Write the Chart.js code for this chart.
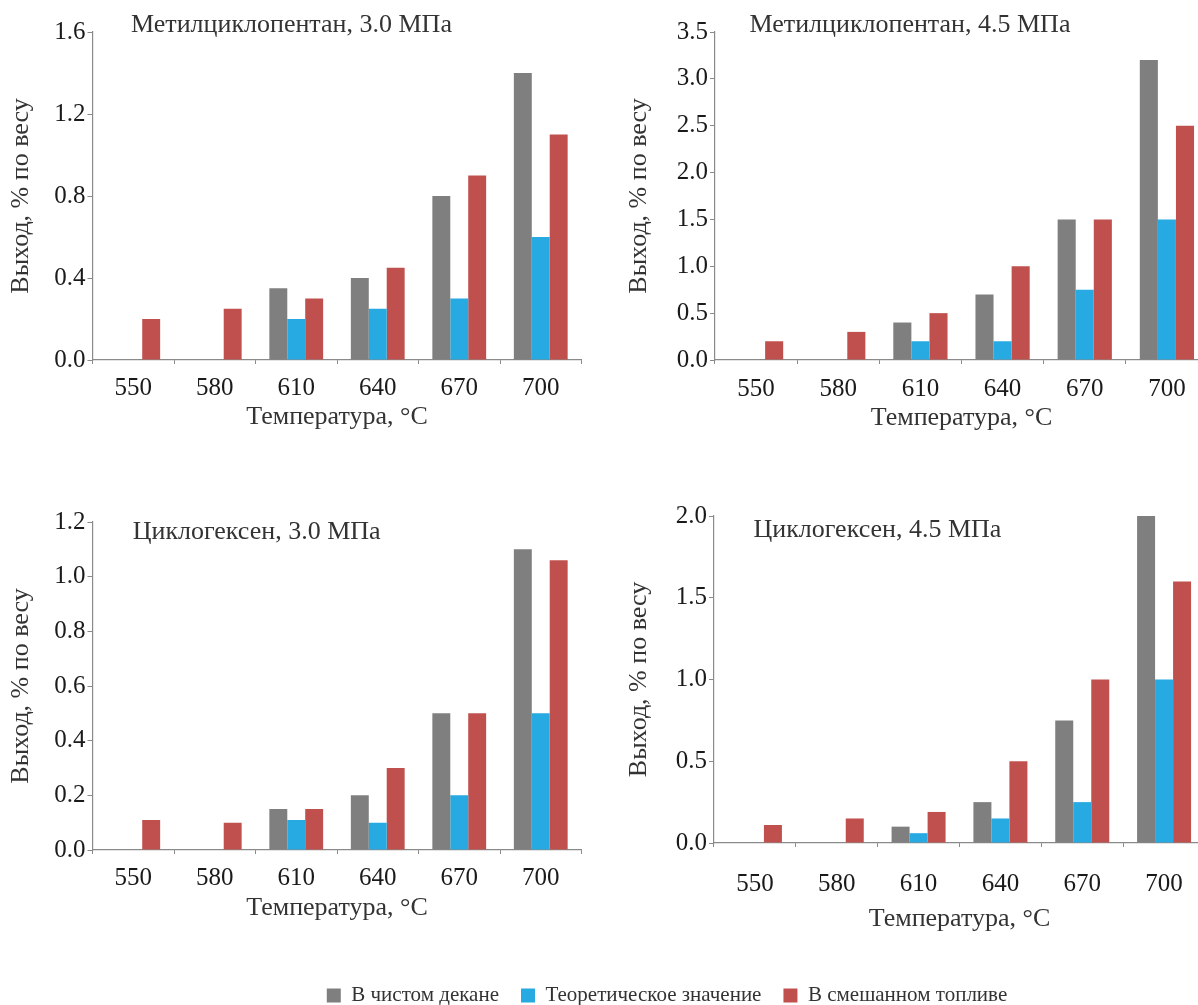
<!DOCTYPE html>
<html>
<head>
<meta charset="utf-8">
<script src="https://cdn.jsdelivr.net/npm/chart.js@4.4.1/dist/chart.umd.min.js"></script>
<style>
  html, body { margin: 0; padding: 0; background: #fff; overflow: hidden; }
  body { width: 1198px; height: 1005px; position: relative; }
  canvas { position: absolute; }
</style>
</head>
<body>
<canvas id="c1"></canvas>
<canvas id="c2"></canvas>
<canvas id="c3"></canvas>
<canvas id="c4"></canvas>
<canvas id="legend"></canvas>
<script>
/* ---------- data ---------- */
var temps = ['550', '580', '610', '640', '670', '700'];
var seriesNames = ['В чистом декане', 'Теоретическое значение', 'В смешанном топливе'];
var seriesColors = ['#7f7f7f', '#27aae1', '#c0504d'];

// Метилциклопентан, 3.0 МПа
var mcp30Decane = [0, 0, 0.35, 0.40, 0.80, 1.40];
var mcp30Theory = [0, 0, 0.20, 0.25, 0.30, 0.60];
var mcp30Mixed  = [0.20, 0.25, 0.30, 0.45, 0.90, 1.10];
// Метилциклопентан, 4.5 МПа
var mcp45Decane = [0, 0, 0.40, 0.70, 1.50, 3.20];
var mcp45Theory = [0, 0, 0.20, 0.20, 0.75, 1.50];
var mcp45Mixed  = [0.20, 0.30, 0.50, 1.00, 1.50, 2.50];
// Циклогексен, 3.0 МПа
var chx30Decane = [0, 0, 0.15, 0.20, 0.50, 1.10];
var chx30Theory = [0, 0, 0.11, 0.10, 0.20, 0.50];
var chx30Mixed  = [0.11, 0.10, 0.15, 0.30, 0.50, 1.06];
// Циклогексен, 4.5 МПа
var chx45Decane = [0, 0, 0.10, 0.25, 0.75, 2.00];
var chx45Theory = [0, 0, 0.06, 0.15, 0.25, 1.00];
var chx45Mixed  = [0.11, 0.15, 0.19, 0.50, 1.00, 1.60];

var yTitle = 'Выход, % по весу';
var xTitle = 'Температура, °C';

/* ---------- layout of the four panels (page pixels) ---------- */
var FONT = "'Liberation Serif', 'Times New Roman', serif";
var panels = [
  { id: 'c1', title: 'Метилциклопентан, 3.0 МПа', data: [mcp30Decane, mcp30Theory, mcp30Mixed], yMax: 1.6, step: 0.4,
    box: [0, 0, 600, 440], area: [92.5, 32, 581.5, 360], tickPad: 9, xTitlePad: 7, yTitlePad: 7, titlePos: [131, 25] },
  { id: 'c2', title: 'Метилциклопентан, 4.5 МПа', data: [mcp45Decane, mcp45Theory, mcp45Mixed], yMax: 3.5, step: 0.5,
    box: [600, 0, 620, 440], area: [715, 32, 1208, 360], tickPad: 10, xTitlePad: 6, yTitlePad: 25, titlePos: [149.5, 25] },
  { id: 'c3', title: 'Циклогексен, 3.0 МПа', data: [chx30Decane, chx30Theory, chx30Mixed], yMax: 1.2, step: 0.2,
    box: [0, 490, 600, 440], area: [92.5, 522, 581.5, 850], tickPad: 9, xTitlePad: 6, yTitlePad: 7, titlePos: [132.7, 41.7] },
  { id: 'c4', title: 'Циклогексен, 4.5 МПа', data: [chx45Decane, chx45Theory, chx45Mixed], yMax: 2.0, step: 0.5,
    box: [600, 490, 620, 450], area: [714, 516, 1205, 843], tickPad: 22, xTitlePad: 5, yTitlePad: 25, titlePos: [153.5, 40] }
];

/* panel caption drawn inside the plot, top-left */
var panelCaption = {
  id: 'panelCaption',
  afterDraw: function (chart, args, opts) {
    var ctx = chart.ctx;
    ctx.save();
    ctx.font = '26px ' + FONT;
    ctx.fillStyle = '#333';
    ctx.textBaseline = 'middle';
    ctx.textAlign = 'left';
    ctx.fillText(opts.text, opts.x, opts.y);
    ctx.restore();
  }
};

panels.forEach(function (p) {
  var cv = document.getElementById(p.id);
  var bx = p.box[0], by = p.box[1], bw = p.box[2], bh = p.box[3];
  cv.style.left = bx + 'px';
  cv.style.top = by + 'px';
  cv.width = bw;
  cv.height = bh;

  var yWidth = p.area[0] - bx;
  var xHeight = by + bh - p.area[3];

  new Chart(cv, {
    type: 'bar',
    plugins: [panelCaption],
    data: {
      labels: temps,
      datasets: seriesNames.map(function (name, i) {
        return {
          label: name,
          data: p.data[i],
          backgroundColor: seriesColors[i],
          borderWidth: 0,
          categoryPercentage: 0.66,
          barPercentage: 1.0
        };
      })
    },
    options: {
      responsive: false,
      animation: false,
      layout: { padding: { top: p.area[1] - by, right: bx + bw - p.area[2], left: 0, bottom: 0 } },
      plugins: {
        legend: { display: false },
        tooltip: { enabled: false },
        panelCaption: { text: p.title, x: p.titlePos[0], y: p.titlePos[1] }
      },
      scales: {
        x: {
          afterFit: function (s) { s.height = xHeight; },
          grid: { drawOnChartArea: false, tickLength: 4, color: '#8a8a8a', lineWidth: 1 },
          border: { color: '#8a8a8a', width: 1.2 },
          ticks: { color: '#1a1a1a', font: { family: FONT, size: 25 }, padding: p.tickPad, maxRotation: 0 },
          title: { display: true, text: xTitle, color: '#333', font: { family: FONT, size: 26 },
                   padding: { top: 0, bottom: p.xTitlePad } }
        },
        y: {
          min: 0,
          max: p.yMax,
          afterFit: function (s) { s.width = yWidth; },
          grid: { drawOnChartArea: false, tickLength: 5, color: '#8a8a8a', lineWidth: 1 },
          border: { color: '#8a8a8a', width: 1.2 },
          ticks: {
            stepSize: p.step,
            color: '#1a1a1a',
            font: { family: FONT, size: 25 },
            padding: 2,
            callback: function (v) { return Number(v).toFixed(1); }
          },
          title: { display: true, text: yTitle, color: '#333', font: { family: FONT, size: 26 },
                   padding: { top: p.yTitlePad - 1, bottom: 0 } }
        }
      }
    }
  });
});

/* ---------- shared legend ---------- */
var lg = document.getElementById('legend');
lg.style.left = '136px';
lg.style.top = '963px';
lg.width = 1062;
lg.height = 160;
new Chart(lg, {
  type: 'bar',
  data: {
    labels: [],
    datasets: seriesNames.map(function (name, i) {
      return { label: name, data: [], backgroundColor: seriesColors[i], borderWidth: 0 };
    })
  },
  options: {
    responsive: false,
    animation: false,
    layout: { padding: 0 },
    plugins: {
      tooltip: { enabled: false },
      legend: {
        display: true,
        position: 'top',
        labels: { boxWidth: 14, boxHeight: 14, padding: 22, color: '#333', font: { family: FONT, size: 21 } }
      }
    },
    scales: { x: { display: false }, y: { display: false } }
  }
});
</script>
</body>
</html>
